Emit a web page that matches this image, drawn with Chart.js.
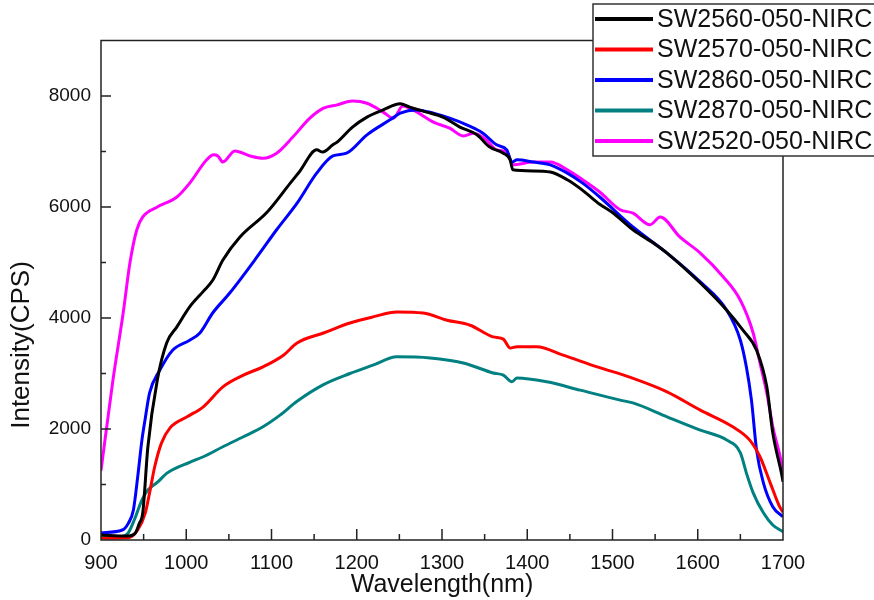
<!DOCTYPE html>
<html>
<head>
<meta charset="utf-8">
<script src="https://cdn.jsdelivr.net/npm/chart.js@4"></script>
<style>
  body { margin: 0; background: #fff; }
  #wrap { width: 874px; height: 600px; }
</style>
</head>
<body>
<div id="wrap"><canvas id="js--chart-1"></canvas></div>
<script>
const labels = ["SW2560-050-NIRC", "SW2570-050-NIRC", "SW2860-050-NIRC", "SW2870-050-NIRC", "SW2520-050-NIRC"];
const colors = ['#000000', '#ff0000', '#0000ff', '#008080', '#ff00ff'];

const wl2560 = [900, 930, 940, 945, 949, 955, 966, 977, 989, 1004, 1020, 1031, 1043, 1063, 1095, 1122, 1133, 1153, 1160, 1172, 1177, 1195, 1212, 1231, 1251, 1262, 1282, 1301, 1321, 1341, 1356, 1372, 1380, 1383, 1407, 1427, 1447, 1465, 1485, 1500, 1524, 1550, 1564, 1603, 1634, 1653, 1669, 1681, 1688, 1699, 1700];
const int2560 = [90, 70, 120, 300, 490, 1680, 2880, 3550, 3840, 4200, 4480, 4680, 5045, 5460, 5910, 6430, 6640, 7030, 6990, 7120, 7170, 7440, 7620, 7750, 7860, 7800, 7710, 7620, 7440, 7300, 7080, 6970, 6850, 6670, 6650, 6630, 6490, 6300, 6050, 5900, 5590, 5330, 5170, 4630, 4140, 3780, 3420, 2760, 1930, 1140, 1050];

const wl2570 = [900, 932, 943, 952, 957, 963, 971, 981, 1001, 1020, 1043, 1067, 1090, 1114, 1130, 1161, 1192, 1219, 1247, 1278, 1306, 1333, 1360, 1372, 1380, 1388, 1411, 1442, 1482, 1521, 1564, 1603, 1641, 1661, 1673, 1685, 1696, 1700];
const int2570 = [30, 40, 180, 490, 850, 1320, 1750, 2020, 2220, 2400, 2760, 2970, 3120, 3330, 3550, 3730, 3910, 4020, 4110, 4090, 3960, 3870, 3660, 3620, 3460, 3480, 3480, 3330, 3120, 2930, 2670, 2340, 2040, 1800, 1500, 1030, 600, 500];

const wl2860 = [900, 925, 932, 938, 943, 948, 952, 957, 969, 984, 1004, 1016, 1031, 1051, 1083, 1106, 1130, 1153, 1172, 1188, 1212, 1239, 1251, 1270, 1290, 1309, 1329, 1348, 1364, 1376, 1382, 1388, 1407, 1427, 1447, 1465, 1485, 1524, 1564, 1603, 1634, 1650, 1657, 1663, 1669, 1677, 1688, 1700];
const int2860 = [130, 180, 300, 540, 1130, 1800, 2200, 2650, 3060, 3420, 3600, 3730, 4090, 4450, 5100, 5590, 6070, 6610, 6920, 6970, 7300, 7570, 7690, 7750, 7690, 7600, 7480, 7330, 7120, 7030, 6810, 6850, 6810, 6760, 6610, 6430, 6180, 5640, 5170, 4650, 4140, 3600, 3120, 2520, 1620, 1030, 600, 420];

const wl2870 = [900, 925, 932, 939, 948, 955, 967, 977, 1004, 1020, 1043, 1067, 1090, 1110, 1130, 1161, 1192, 1219, 1247, 1286, 1325, 1360, 1372, 1382, 1388, 1423, 1462, 1509, 1524, 1564, 1603, 1634, 1650, 1657, 1665, 1677, 1688, 1700];
const int2870 = [40, 60, 130, 360, 720, 900, 1050, 1200, 1400, 1500, 1680, 1860, 2040, 2250, 2500, 2800, 3000, 3150, 3300, 3280, 3190, 3010, 2970, 2850, 2920, 2850, 2700, 2520, 2470, 2220, 1980, 1800, 1570, 1210, 850, 490, 270, 150];

const wl2520 = [900, 914, 926, 934, 942, 949, 966, 989, 1004, 1024, 1032, 1037, 1043, 1057, 1075, 1090, 1106, 1125, 1145, 1161, 1177, 1195, 1212, 1231, 1243, 1254, 1266, 1290, 1309, 1325, 1337, 1352, 1364, 1376, 1383, 1407, 1427, 1447, 1465, 1485, 1509, 1524, 1544, 1556, 1579, 1603, 1630, 1650, 1665, 1673, 1681, 1688, 1699, 1700];
const int2520 = [1250, 2880, 4090, 5000, 5590, 5820, 6000, 6180, 6430, 6850, 6940, 6920, 6810, 7010, 6920, 6880, 6970, 7260, 7600, 7780, 7840, 7910, 7870, 7710, 7600, 7820, 7750, 7530, 7420, 7280, 7330, 7210, 7030, 6990, 6760, 6810, 6810, 6670, 6490, 6270, 5950, 5890, 5680, 5820, 5460, 5170, 4740, 4320, 3730, 3190, 2650, 2040, 1320, 1200];

const xValues = [wl2560, wl2570, wl2860, wl2870, wl2520];
const yValues = [int2560, int2570, int2860, int2870, int2520];

const font = "'Liberation Sans', Arial, sans-serif";

const datasets = labels.map(function (label, i) {
    return {
        label: label,
        data: xValues[i].map(function (x, j) { return { x: x, y: yValues[i][j] }; }),
        borderColor: colors[i],
        backgroundColor: colors[i],
        borderWidth: 3,
        pointRadius: 0,
        cubicInterpolationMode: 'monotone',
        fill: false
    };
});

// frame, inner ticks, y title and boxed legend
const decor = {
    id: 'decor',
    afterDraw(chart) {
        const ctx = chart.ctx;
        const a = chart.chartArea;
        const x = chart.scales.x;
        const y = chart.scales.y;
        ctx.save();
        ctx.strokeStyle = '#222';
        ctx.lineWidth = 1.5;
        ctx.strokeRect(a.left, a.top, a.right - a.left, a.bottom - a.top);
        ctx.beginPath();
        for (let v = 950; v < 1700; v += 50) {
            const px = x.getPixelForValue(v);
            const len = v % 100 === 0 ? 11 : 6;
            ctx.moveTo(px, a.bottom);
            ctx.lineTo(px, a.bottom - len);
        }
        for (let v = 1000; v < 9000; v += 1000) {
            const py = y.getPixelForValue(v);
            const len = v % 2000 === 0 ? 10 : 5;
            ctx.moveTo(a.left, py);
            ctx.lineTo(a.left + len, py);
        }
        ctx.stroke();

        // y axis title
        ctx.save();
        ctx.translate(22, 345);
        ctx.rotate(-Math.PI / 2);
        ctx.fillStyle = '#111';
        ctx.font = "26px " + font;
        ctx.textAlign = 'center';
        ctx.textBaseline = 'middle';
        ctx.fillText('Intensity(CPS)', 0, 0);
        ctx.restore();

        // legend box
        ctx.fillStyle = '#fff';
        ctx.fillRect(593, 4, 300, 152);
        ctx.strokeStyle = '#333';
        ctx.lineWidth = 1.5;
        ctx.strokeRect(593, 4, 300, 152);
        ctx.font = "25px " + font;
        ctx.textAlign = 'left';
        ctx.textBaseline = 'middle';
        chart.data.datasets.forEach(function (ds, i) {
            const cy = 19 + i * 30.5;
            ctx.strokeStyle = ds.borderColor;
            ctx.lineWidth = 4;
            ctx.beginPath();
            ctx.moveTo(595, cy);
            ctx.lineTo(653, cy);
            ctx.stroke();
            ctx.fillStyle = '#111';
            ctx.fillText(ds.label, 657, cy + 1);
        });
        ctx.restore();
    }
};

new Chart(document.getElementById("js--chart-1"), {
    type: 'line',
    data: { datasets: datasets },
    options: {
        responsive: true,
        maintainAspectRatio: false,
        animation: false,
        layout: { padding: { top: 40.5, right: 91, left: 0, bottom: 0 } },
        plugins: {
            legend: { display: false },
            tooltip: { enabled: false }
        },
        scales: {
            x: {
                type: 'linear',
                min: 900,
                max: 1700,
                afterFit: function (scale) { scale.height = 60; },
                grid: { display: false, drawTicks: false },
                border: { display: false },
                ticks: {
                    stepSize: 100,
                    padding: 11,
                    color: '#111',
                    font: { family: font, size: 20 },
                    callback: function (v) { return String(v); }
                },
                title: { display: true, text: 'Wavelength(nm)', color: '#111', font: { family: font, size: 25 }, padding: { top: 0, bottom: 0 } }
            },
            y: {
                type: 'linear',
                min: 0,
                max: 9000,
                afterFit: function (scale) { scale.width = 101; },
                grid: { display: false, drawTicks: false },
                border: { display: false },
                ticks: {
                    stepSize: 1000,
                    autoSkip: false,
                    padding: 10,
                    color: '#111',
                    font: { family: font, size: 19 },
                    callback: function (v) { return v % 2000 === 0 ? String(v) : null; }
                }
            }
        }
    },
    plugins: [decor]
});
</script>
</body>
</html>
